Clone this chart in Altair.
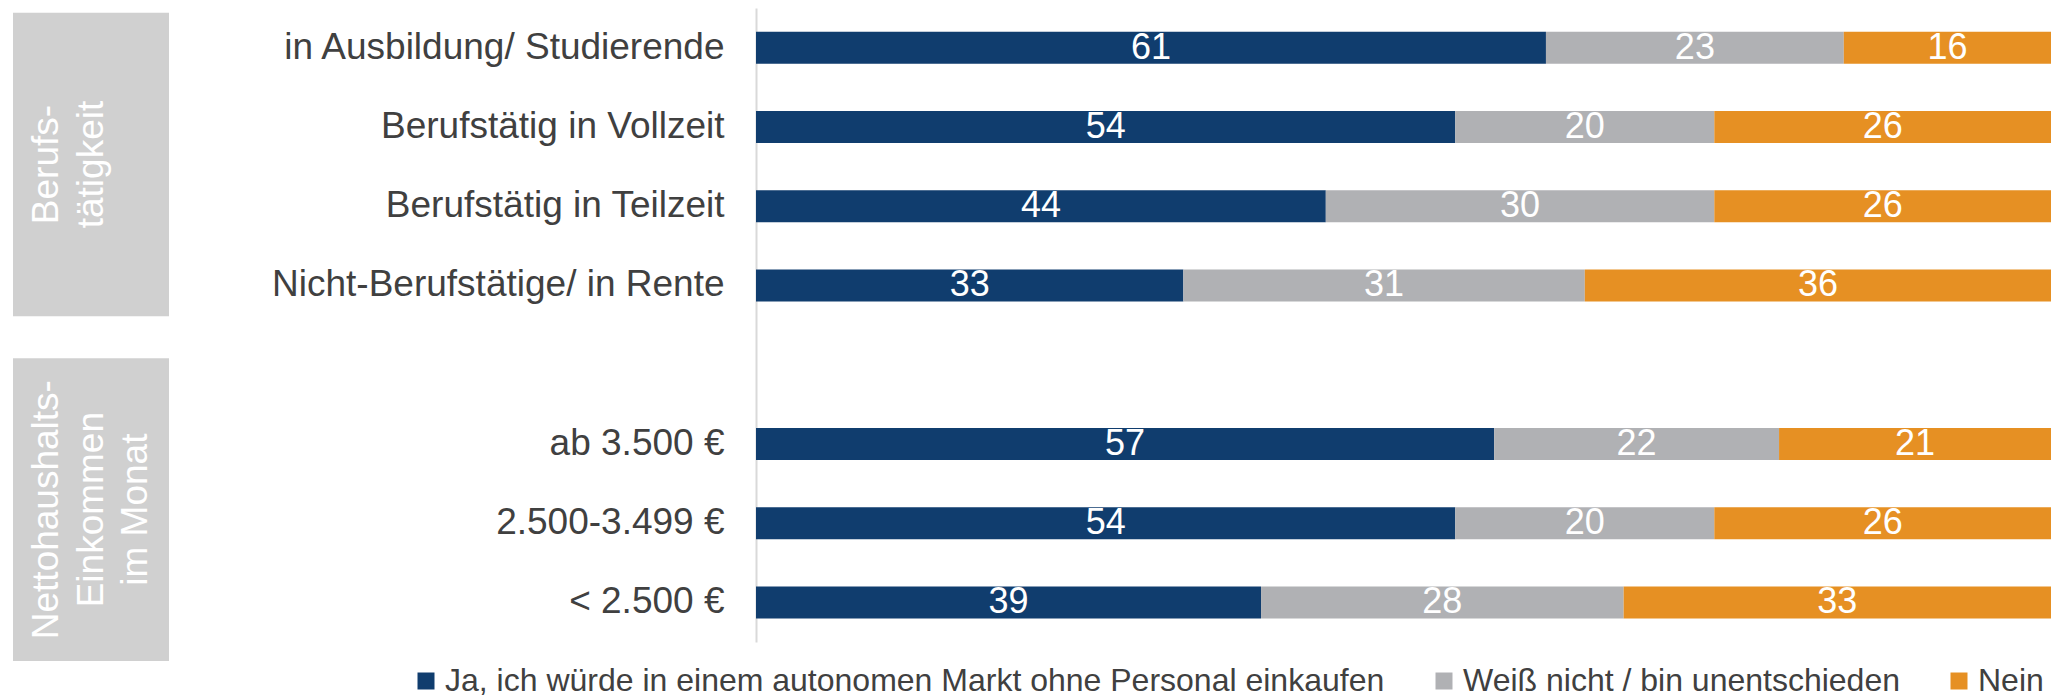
import altair as alt
import pandas as pd

# ---- data -------------------------------------------------------------
categories = [
    "in Ausbildung/ Studierende",
    "Berufstätig in Vollzeit",
    "Berufstätig in Teilzeit",
    "Nicht-Berufstätige/ in Rente",
    " ",
    "ab 3.500 €",
    "2.500-3.499 €",
    "< 2.500 €",
]
ja = [61, 54, 44, 33, None, 57, 54, 39]
weiss = [23, 20, 30, 31, None, 22, 20, 28]
nein = [16, 26, 26, 36, None, 21, 26, 33]

series = [
    "Ja, ich würde in einem autonomen Markt ohne Personal einkaufen",
    "Weiß nicht / bin unentschieden",
    "Nein",
]
colors = ["#103D6E", "#B0B1B4", "#E69023"]

group_labels = ["Berufs-\ntätigkeit", "Nettohaushalts-\nEinkommen\nim Monat"]
group_start = [0.06, 4.42]  # in row units (0 = top of plot)
group_end = [3.89, 8.24]

FONT = "Liberation Sans"

# ---- tables -------------------------------------------------------------
rows = []
for cat, a, b, c in zip(categories, ja, weiss, nein):
    if a is None:
        continue
    s = 0
    for name, v in zip(series, [a, b, c]):
        rows.append(dict(cat=cat, series=name, value=v, start=s, end=s + v, mid=s + v / 2))
        s += v
df = pd.DataFrame(rows)

box_df = pd.DataFrame({"label": group_labels, "y0": group_start, "y1": group_end})
box_df["ym"] = (box_df["y0"] + box_df["y1"]) / 2

H = 634
yrows = alt.Scale(domain=[0, 8], reverse=True, nice=False, zero=False)

# ---- left panel with group boxes -------------------------------------------
boxes = alt.Chart(box_df).mark_rect(color="#D0D0D0").encode(
    x=alt.value(0),
    x2=alt.value(156),
    y=alt.Y("y0:Q", scale=yrows, axis=None),
    y2="y1:Q",
)
box_text = alt.Chart(box_df).mark_text(
    angle=270, align="center", baseline="top", lineBreak="\n",
    fontSize=37, lineHeight=44.5, color="white", font=FONT,
).encode(
    x=alt.value(16),
    y=alt.Y("ym:Q", scale=yrows, axis=None),
    text="label:N",
)
left = alt.layer(boxes, box_text).properties(width=156, height=H)

# ---- main bars -------------------------------------------------------------
yscale = alt.Scale(domain=categories, paddingInner=0, paddingOuter=0)
yaxis = alt.Axis(
    title=None, ticks=False, domain=True, domainColor="#D9D9D9", domainWidth=2,
    labelFontSize=37, labelFont=FONT, labelColor="#404040", labelPadding=32,
    labelLimit=1000, grid=False,
)
xq = alt.Scale(domain=[0, 100], nice=False, zero=True)

bars = alt.Chart(df).mark_bar(size=32).encode(
    y=alt.Y("cat:N", scale=yscale, axis=yaxis),
    x=alt.X("start:Q", scale=xq, axis=None),
    x2="end:Q",
    color=alt.Color(
        "series:N",
        scale=alt.Scale(domain=series, range=colors),
        legend=alt.Legend(
            orient="none", legendX=397, legendY=657, direction="horizontal",
            title=None, labelFontSize=32, labelFont=FONT, labelColor="#404040",
            symbolType="square", symbolSize=289, symbolStrokeWidth=0,
            labelOffset=3, columnPadding=43, labelLimit=2000, padding=0,
        ),
    ),
)
labels = alt.Chart(df).mark_text(
    color="white", fontSize=36, font=FONT, baseline="middle", align="center"
).encode(
    y=alt.Y("cat:N", scale=yscale, axis=yaxis),
    x=alt.X("mid:Q", scale=xq, axis=None),
    text=alt.Text("value:Q"),
)
main = alt.layer(bars, labels).properties(width=1295, height=H)

chart = (
    alt.hconcat(left, main, spacing=587, bounds="flush")
    .properties(padding={"left": 5, "top": 0, "right": 0, "bottom": 0}, background="white")
    .configure_view(stroke=None)
)

chart.save("out.html", embed_options={"renderer": "svg", "actions": False})
